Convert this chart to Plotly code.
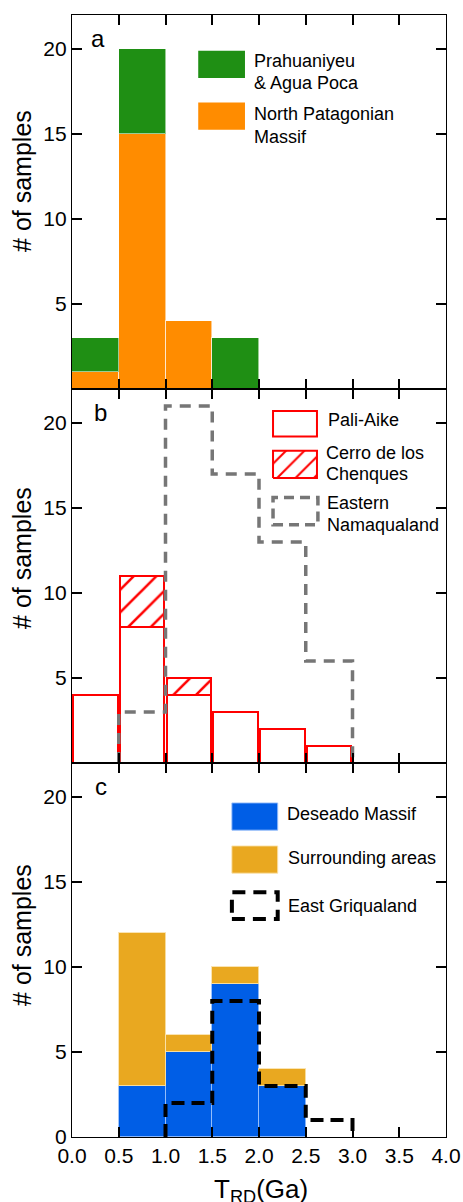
import plotly.graph_objects as go
from plotly.subplots import make_subplots

# Histogram bins of T_RD (Ga)
bin_edges = [0.0, 0.5, 1.0, 1.5, 2.0, 2.5, 3.0, 3.5, 4.0]
bin_centers = [0.25, 0.75, 1.25, 1.75, 2.25, 2.75, 3.25, 3.75]

# (a) North Patagonian Massif with Prahuaniyeu & Agua Poca stacked on top
north_patagonian = [1, 15, 4, 0, 0, 0, 0, 0]
prahuaniyeu = [2, 5, 0, 3, 0, 0, 0, 0]

# (b) Pali-Aike with Cerro de los Chenques stacked, Eastern Namaqualand outline
pali_aike = [4, 8, 4, 3, 2, 1, 0, 0]
cerro_chenques = [0, 3, 1, 0, 0, 0, 0, 0]
eastern_namaqualand = [0, 3, 21, 17, 13, 6, 0, 0]

# (c) Deseado Massif with surrounding areas stacked, East Griqualand outline
deseado = [0, 3, 5, 9, 3, 0, 0, 0]
surrounding = [0, 9, 1, 1, 1, 0, 0, 0]
east_griqualand = [0, 0, 2, 8, 3, 1, 0, 0]

x_tick_vals = [0.0, 0.5, 1.0, 1.5, 2.0, 2.5, 3.0, 3.5, 4.0]
x_tick_text = ["0.0", "0.5", "1.0", "1.5", "2.0", "2.5", "3.0", "3.5", "4.0"]
y_tick_vals_ab = [5, 10, 15, 20]
y_tick_vals_c = [0, 5, 10, 15, 20]

GREEN = "#1f8f14"
ORANGE = "#ff8c00"
RED = "#ff0000"
GRAY = "#767676"
BLUE = "#005ee6"
GOLD = "#e9a820"
FONT = "Liberation Sans, Arial, sans-serif"


def nonzero(counts):
    xs = [c for c, v in zip(bin_centers, counts) if v > 0]
    ys = [v for v in counts if v > 0]
    return xs, ys


def step_outline(counts):
    nz = [i for i, v in enumerate(counts) if v > 0]
    first, last = nz[0], nz[-1]
    xs, ys = [bin_edges[first]], [0]
    for i in range(first, last + 1):
        xs += [bin_edges[i], bin_edges[i + 1]]
        ys += [counts[i], counts[i]]
    xs.append(bin_edges[last + 1])
    ys.append(0)
    return xs, ys


fig = make_subplots(rows=3, cols=1, shared_xaxes=True, vertical_spacing=0)

soft_edge = dict(color="rgba(255,255,255,0.55)", width=1)

# ---- panel a ----
x, y = nonzero(north_patagonian)
fig.add_trace(go.Bar(x=x, y=y, width=0.5, marker=dict(color=ORANGE, line=soft_edge),
                     name="North Patagonian Massif"), row=1, col=1)
x, y = nonzero(prahuaniyeu)
fig.add_trace(go.Bar(x=x, y=y, width=0.5, marker=dict(color=GREEN, line=soft_edge),
                     name="Prahuaniyeu & Agua Poca"), row=1, col=1)

# ---- panel b ----
x, y = nonzero(pali_aike)
fig.add_trace(go.Bar(x=x, y=y, width=0.475,
                     marker=dict(color="white", line=dict(color=RED, width=2)),
                     name="Pali-Aike"), row=2, col=1)
x, y = nonzero(cerro_chenques)
fig.add_trace(go.Bar(x=x, y=y, width=0.475,
                     marker=dict(color="white", line=dict(color=RED, width=2),
                                 pattern=dict(shape="/", fgcolor=RED, bgcolor="white",
                                              fgopacity=1, size=16, solidity=0.16)),
                     name="Cerro de los Chenques"), row=2, col=1)
x, y = step_outline(eastern_namaqualand)
fig.add_trace(go.Scatter(x=x, y=y, mode="lines",
                         line=dict(color=GRAY, width=3.5, dash="11px,8px"),
                         name="Eastern Namaqualand"), row=2, col=1)

# ---- panel c ----
x, y = nonzero(deseado)
fig.add_trace(go.Bar(x=x, y=y, width=0.5,
                     marker=dict(color=BLUE, line=dict(color="rgba(150,190,250,0.9)", width=1)),
                     name="Deseado Massif"), row=3, col=1)
x, y = nonzero(surrounding)
fig.add_trace(go.Bar(x=x, y=y, width=0.5,
                     marker=dict(color=GOLD, line=dict(color="rgba(250,225,170,0.9)", width=1)),
                     name="Surrounding areas"), row=3, col=1)
x, y = step_outline(east_griqualand)
fig.add_trace(go.Scatter(x=x, y=y, mode="lines",
                         line=dict(color="black", width=4, dash="13px,7px"),
                         name="East Griqualand"), row=3, col=1)

# ---- legend keys drawn inside each panel ----
def key_box(row, x0, x1, y0, y1, fill, line_color, line_width=0, dash="solid"):
    fig.add_shape(type="rect", x0=x0, x1=x1, y0=y0, y1=y1, row=row, col=1,
                  fillcolor=fill, layer="above",
                  line=dict(color=line_color, width=line_width, dash=dash))


def key_text(row, x0, y0, text):
    ax = "x" if row == 1 else f"x{row}"
    ay = "y" if row == 1 else f"y{row}"
    fig.add_annotation(x=x0, y=y0, xref=ax, yref=ay, text=text, showarrow=False,
                       xanchor="left", yanchor="middle",
                       font=dict(family=FONT, size=18, color="black"))


key_box(1, 1.35, 1.85, 18.3, 19.9, GREEN, GREEN)
key_text(1, 1.93, 19.3, "Prahuaniyeu")
key_text(1, 1.93, 18.0, "&amp; Agua Poca")
key_box(1, 1.35, 1.85, 15.25, 16.85, ORANGE, ORANGE)
key_text(1, 1.93, 16.2, "North Patagonian")
key_text(1, 1.93, 14.85, "Massif")

key_box(2, 2.15, 2.62, 19.2, 20.7, "white", RED, 2)
fig.add_trace(go.Scatter(x=[2.15, 2.62, 2.62, 2.15, 2.15], y=[16.77, 16.77, 18.37, 18.37, 16.77],
                         mode="lines", fill="toself", fillcolor="white",
                         fillpattern=dict(shape="/", fgcolor=RED, bgcolor="white", fgopacity=1,
                                          size=13, solidity=0.16),
                         line=dict(color=RED, width=2), hoverinfo="skip", showlegend=False),
              row=2, col=1)
key_box(2, 2.15, 2.63, 14.02, 15.62, "rgba(0,0,0,0)", GRAY, 3.5, "10px,6px")
key_text(2, 2.72, 20.2, "Pali-Aike")
key_text(2, 2.70, 18.22, "Cerro de los")
key_text(2, 2.70, 16.98, "Chenques")
key_text(2, 2.71, 15.32, "Eastern")
key_text(2, 2.71, 13.98, "Namaqualand")

key_box(3, 1.71, 2.2, 18.05, 19.65, BLUE, "rgba(150,190,250,0.9)", 1)
key_box(3, 1.71, 2.2, 15.52, 17.12, GOLD, "rgba(250,225,170,0.9)", 1)
key_box(3, 1.71, 2.2, 12.82, 14.4, "rgba(0,0,0,0)", "black", 4, "13px,8px")
key_text(3, 2.28, 19.0, "Deseado Massif")
key_text(3, 2.29, 16.42, "Surrounding areas")
key_text(3, 2.29, 13.58, "East Griqualand")

# ---- panel letters ----
for row, lx, letter in [(1, 0.28, "a"), (2, 0.31, "b"), (3, 0.31, "c")]:
    ax = "x" if row == 1 else f"x{row}"
    ay = "y" if row == 1 else f"y{row}"
    fig.add_annotation(x=lx, y=20.6, xref=ax, yref=ay, text=letter, showarrow=False,
                       xanchor="center", yanchor="middle",
                       font=dict(family=FONT, size=24, color="black"))

# ---- axis titles ----
for ypos in [0.852, 0.516, 0.18]:
    fig.add_annotation(x=-0.134, y=ypos, xref="paper", yref="paper", text="# of samples",
                       textangle=-90, showarrow=False, xanchor="center", yanchor="middle",
                       font=dict(family=FONT, size=25, color="black"))
fig.add_annotation(x=0.505, y=-0.031, xref="paper", yref="paper",
                   text="T<sub>RD</sub>(Ga)", showarrow=False, xanchor="center", yanchor="top",
                   font=dict(family=FONT, size=26, color="black"))

axis_style = dict(showline=True, linecolor="black", linewidth=1.4, mirror="allticks",
                  ticks="inside", ticklen=10, tickwidth=1.5, tickcolor="black",
                  showgrid=False, zeroline=False, automargin=False,
                  tickfont=dict(family=FONT, size=21, color="black"))

for r in (1, 2, 3):
    fig.update_xaxes(range=[0, 4], tickvals=x_tick_vals, ticktext=x_tick_text,
                     showticklabels=(r == 3), row=r, col=1, **axis_style)
    fig.update_yaxes(range=[0, 22], tickvals=(y_tick_vals_c if r == 3 else y_tick_vals_ab),
                     row=r, col=1, **axis_style)

fig.update_layout(width=463, height=1202, barmode="stack", bargap=0,
                  margin=dict(l=72, r=17, t=15, b=65, autoexpand=False),
                  plot_bgcolor="white", paper_bgcolor="white",
                  showlegend=False, font=dict(family=FONT, color="black"))

fig.write_html("out.html")
